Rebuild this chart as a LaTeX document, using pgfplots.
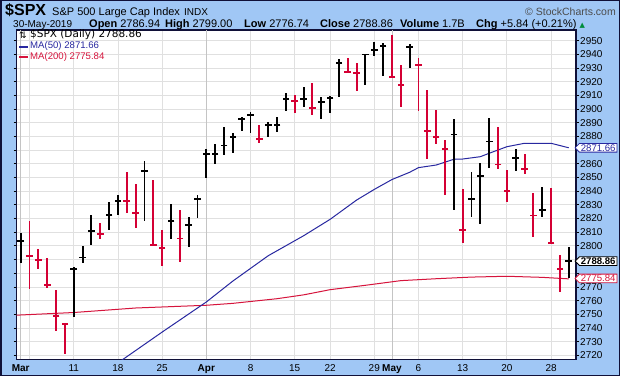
\documentclass[border=0pt]{standalone}
\usepackage{pgfplots}
\pgfplotsset{compat=1.18}
\usepackage{pgfplotstable}
\usepackage{fontspec}
\setmainfont{Liberation Sans}
\newfontfamily\dejavu{DejaVu Sans}
\usetikzlibrary{shapes.symbols}

\definecolor{bgblue}{RGB}{160,199,245}
\definecolor{framec}{RGB}{16,16,56}
\definecolor{barred}{RGB}{212,0,52}
\definecolor{mablue}{RGB}{40,40,160}
\definecolor{mared}{RGB}{214,20,60}
\definecolor{gridc}{RGB}{224,224,224}
\definecolor{gridm}{RGB}{196,196,196}
\definecolor{upgreen}{RGB}{0,140,60}

% x = trading-day index (0 = 1 Mar 2019, 62 = 30 May 2019)
\pgfplotstableread{
x c h l
0 2803.7 2809.6 2787.7
6 2783.3 2784.8 2747.8
7 2791.5 2800.0 2787.7
8 2810.9 2822.3 2801.0
10 2822.5 2832.0 2811.6
11 2832.9 2837.2 2822.6
14 2854.9 2862.0 2818.4
17 2818.5 2830.8 2805.2
19 2815.4 2821.0 2799.4
20 2834.4 2837.4 2820.6
21 2867.2 2870.6 2849.8
22 2867.2 2874.4 2860.1
23 2873.4 2886.9 2866.7
24 2879.4 2882.3 2868.1
25 2892.7 2894.4 2884.2
26 2895.8 2897.6 2882.3
28 2888.2 2890.8 2879.8
29 2888.3 2894.5 2883.0
30 2907.4 2912.0 2898.8
32 2907.1 2916.4 2901.7
34 2905.0 2909.0 2892.8
35 2908.0 2909.8 2897.4
36 2933.7 2936.4 2909.0
39 2939.9 2940.6 2917.8
40 2943.0 2948.8 2939.0
41 2945.8 2948.1 2924.4
44 2945.6 2947.6 2929.8
49 2881.4 2892.7 2826.4
51 2834.4 2853.8 2821.3
52 2851.0 2860.4 2816.2
53 2876.3 2893.5 2857.2
56 2864.4 2870.8 2855.0
59 2826.1 2842.8 2821.3
62 2788.9 2799.0 2776.7
}\updays

\pgfplotstableread{
x c h l
1 2792.8 2818.2 2768.2
2 2789.7 2797.7 2783.3
3 2771.5 2791.1 2769.0
4 2748.9 2767.7 2738.0
5 2743.1 2743.6 2721.2
9 2808.5 2816.7 2804.8
12 2832.6 2853.8 2824.3
13 2824.2 2845.2 2813.3
15 2800.7 2848.2 2800.2
16 2798.4 2811.6 2785.5
18 2805.4 2826.5 2788.4
27 2878.2 2888.1 2875.0
31 2905.6 2910.3 2897.4
33 2900.5 2919.3 2895.7
37 2927.3 2937.6 2926.2
38 2926.2 2933.5 2913.2
42 2923.7 2954.2 2923.2
43 2917.5 2932.5 2901.3
45 2932.5 2937.4 2898.8
46 2884.1 2914.0 2863.7
47 2879.4 2899.3 2874.7
48 2870.7 2877.4 2837.4
50 2811.9 2841.6 2802.3
54 2859.5 2886.9 2856.0
55 2840.2 2855.5 2832.3
57 2856.3 2867.2 2852.3
58 2822.2 2838.9 2806.7
60 2802.4 2842.1 2801.8
61 2783.0 2793.1 2766.5
}\downdays

\pgfplotstableread{
x v
11 2714.5
16 2737.0
21 2759.0
24 2774.3
28 2792.8
32 2807.4
35 2819.4
38 2833.5
40 2841.3
42 2848.5
44 2853.8
45 2857.2
47 2859.1
49 2863.3
50 2863.5
52 2865.2
53 2867.7
55 2872.5
57 2875.0
60 2875.0
62 2871.7
}\mafifty

\pgfplotstableread{
x v
-0.47 2749.3
0 2749.5
6 2751.3
13 2754.6
21 2756.6
24 2758.0
29 2761.4
32 2764.2
35 2768.0
39 2771.2
43 2774.6
47 2776.0
51 2777.2
55 2777.8
59 2777.0
62 2775.9
}\matwohundred

\pgfplotsset{/pgf/number format/assume math mode=true}

\begin{document}
\begin{tikzpicture}[x=1pt,y=1pt]
\fill[bgblue] (0,0) rectangle (620,376);
\useasboundingbox (0,0) rectangle (620,376);
\begin{axis}[
  at={(16.5pt,16.7pt)}, anchor=south west,
  scale only axis, width=559.5pt, height=329.3pt,
  xmin=-0.475, xmax=62.82, ymin=2717.1, ymax=2957.8,
  axis background/.style={fill=white},
  axis line style={line width=1.2pt, draw=framec},
  ytick={2720,2730,...,2950},
  yticklabels={2720,2730,2740,2750,2760,2770,,,2800,2810,2820,2830,2840,2850,2860,,2880,2890,2900,2910,2920,2930,2940,2950},
  yticklabel pos=right,
  yticklabel style={font=\fontsize{10}{10}\selectfont, inner sep=1pt},
  tick align=outside, major tick length=3pt,
  ytick style={draw=black, line width=0.8pt},
  xtick={1,6,11,16,26,31,35,40,45,50,55,60},
  xticklabels={,11,18,25,8,15,22,29,6,13,20,28},
  xtick style={draw=none},
  extra x ticks={0,21,42},
  extra x tick labels={\textbf{Mar},\textbf{Apr},\textbf{May}},
  extra x tick style={grid style={gridm, line width=0.9pt}, xtick style={draw=none}},
  xticklabel style={font=\fontsize{10}{10}\selectfont, inner sep=2pt},
  xmajorgrids, ymajorgrids,
  grid style={gridc, line width=0.8pt},
  clip=true,
]
\addplot[mared, line width=1pt] table[x=x, y=v] {\matwohundred};
\addplot[mablue, line width=1pt] table[x=x, y=v] {\mafifty};

\addplot[black, only marks, mark=-, mark size=3.3pt, mark options={line width=1.9pt, black},
  error bars/.cd, y dir=both, y explicit, error mark=none,
  error bar style={line width=1.9pt, black}]
  table[x=x, y=c, y error plus expr=\thisrow{h}-\thisrow{c}, y error minus expr=\thisrow{c}-\thisrow{l}] {\updays};
\addplot[barred, only marks, mark=-, mark size=3.3pt, mark options={line width=1.9pt, barred},
  error bars/.cd, y dir=both, y explicit, error mark=none,
  error bar style={line width=1.9pt, barred}]
  table[x=x, y=c, y error plus expr=\thisrow{h}-\thisrow{c}, y error minus expr=\thisrow{c}-\thisrow{l}] {\downdays};

\coordinate (t50) at (axis cs:62.82,2871.66);
\coordinate (tcl) at (axis cs:62.82,2788.86);
\coordinate (t200) at (axis cs:62.82,2775.84);
\end{axis}

% value tags on the right axis
\node[signal, signal to=west, draw=mablue, fill=white, text=mablue, line width=0.8pt,
  inner xsep=1.5pt, inner ysep=0.9pt, font=\fontsize{9.6}{9.6}\selectfont, anchor=west]
  at ([xshift=-1.5pt]t50) {2871.66};
\node[signal, signal to=west, draw=black, fill=white, text=black, line width=0.8pt,
  inner xsep=1.5pt, inner ysep=0.9pt, font=\bfseries\fontsize{9.6}{9.6}\selectfont, anchor=west]
  at ([xshift=-1.5pt]tcl) {2788.86};
\node[signal, signal to=west, draw=mared, fill=white, text=mared, line width=0.8pt,
  inner xsep=1.5pt, inner ysep=0.9pt, font=\fontsize{9.6}{9.6}\selectfont, anchor=west]
  at ([xshift=-1.5pt,yshift=0.5pt]t200) {2775.84};

% legend
\node[anchor=west, inner sep=0pt, font=\dejavu\fontsize{9}{9}\selectfont] at (19,341) {⇅};
\node[anchor=west, inner sep=0pt, font=\dejavu\fontsize{10.5}{10.5}\selectfont] at (30,341) {\$SPX (Daily) 2788.86};
\draw[mablue, line width=2pt] (19,329.5) -- (28,329.5);
\node[anchor=west, inner sep=0pt, text=mablue, font=\fontsize{9.6}{9.6}\selectfont] at (30,329.5) {MA(50) 2871.66};
\draw[mared, line width=2pt] (19,319) -- (28,319);
\node[anchor=west, inner sep=0pt, text=mared, font=\fontsize{9.6}{9.6}\selectfont] at (30,319) {MA(200) 2775.84};

% header
\node[anchor=base west, inner sep=0pt, font=\bfseries\fontsize{16}{16}\selectfont] at (5,361) {\$SPX};
\node[anchor=base west, inner sep=0pt, font=\fontsize{11}{11}\selectfont] at (52,361) {S\&P 500 Large Cap Index};
\node[anchor=base west, inner sep=0pt, font=\fontsize{10}{10}\selectfont] at (184,361) {INDX};
\node[anchor=base east, inner sep=0pt, text=black!70, font=\fontsize{10.5}{10.5}\selectfont] at (616,361) {© StockCharts.com};

\node[anchor=base west, inner sep=0pt, font=\fontsize{10}{10}\selectfont] at (13,349) {30-May-2019};
\begin{scope}[every node/.style={anchor=base west, inner sep=0pt, font=\fontsize{11}{11}\selectfont}]
\node at (89,349) {\textbf{Open} 2786.94};
\node at (165,349) {\textbf{High} 2799.00};
\node at (244,349) {\textbf{Low} 2776.74};
\node at (320,349) {\textbf{Close} 2788.86};
\node at (400,349) {\textbf{Volume} 1.7B};
\node at (476,349) {\textbf{Chg} +5.84 (+0.21\%)\ {\dejavu\color{upgreen}\fontsize{7}{7}\selectfont ▲}};
\end{scope}

\draw[framec, line width=1.5pt] (0.75,0.75) rectangle (619.25,375.25);
\end{tikzpicture}
\end{document}
